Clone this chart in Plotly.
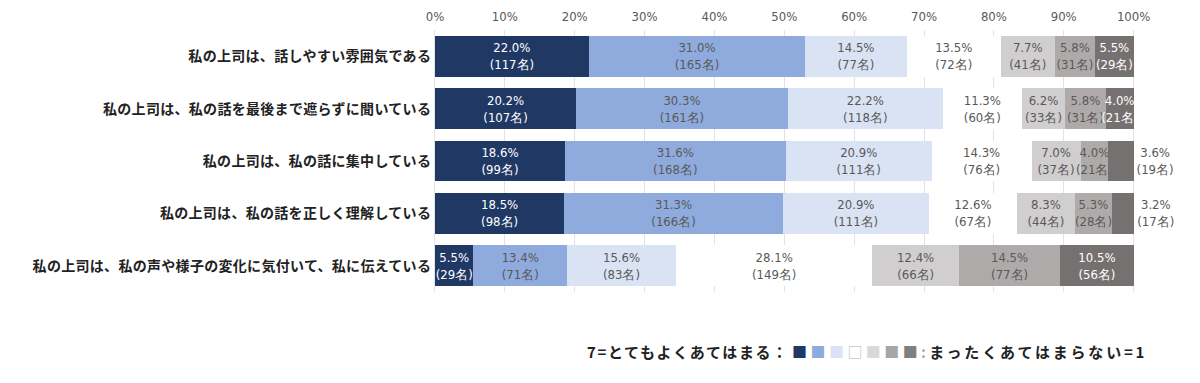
import plotly.graph_objects as go

categories = [
    "私の上司は、話しやすい雰囲気である",
    "私の上司は、私の話を最後まで遮らずに聞いている",
    "私の上司は、私の話に集中している",
    "私の上司は、私の話を正しく理解している",
    "私の上司は、私の声や様子の変化に気付いて、私に伝えている",
]
levels = ["7", "6", "5", "4", "3", "2", "1"]
pct = {
    "7": [22.0, 20.2, 18.6, 18.5, 5.5],
    "6": [31.0, 30.3, 31.6, 31.3, 13.4],
    "5": [14.5, 22.2, 20.9, 20.9, 15.6],
    "4": [13.5, 11.3, 14.3, 12.6, 28.1],
    "3": [7.7, 6.2, 7.0, 8.3, 12.4],
    "2": [5.8, 5.8, 4.0, 5.3, 14.5],
    "1": [5.5, 4.0, 3.6, 3.2, 10.5],
}
counts = {
    "7": [117, 107, 99, 98, 29],
    "6": [165, 161, 168, 166, 71],
    "5": [77, 118, 111, 111, 83],
    "4": [72, 60, 76, 67, 149],
    "3": [41, 33, 37, 44, 66],
    "2": [31, 31, 21, 28, 77],
    "1": [29, 21, 19, 17, 56],
}
tick_vals = [0, 10, 20, 30, 40, 50, 60, 70, 80, 90, 100]
tick_text = [f"{v}%" for v in tick_vals]
legend_left = "7=とてもよくあてはまる："
legend_right = "まったくあてはまらない=1"

colors = {"7": "#203864", "6": "#8FAADC", "5": "#DAE3F3", "4": "#FFFFFF",
          "3": "#D0CECE", "2": "#AEAAAA", "1": "#767171"}
legend_sq = {"7": "#203864", "6": "#8FAADC", "5": "#DAE3F3", "4": "#FFFFFF",
             "3": "#D9D9D9", "2": "#A6A6A6", "1": "#7F7F7F"}
text_colors = {"7": "#FFFFFF", "6": "#595959", "5": "#595959", "4": "#595959",
               "3": "#595959", "2": "#595959", "1": "#FFFFFF"}
num_font = "Liberation Sans Narrow, DejaVu Sans Condensed, Roboto, sans-serif"
jp_font = "Noto Sans CJK JP"

fig = go.Figure()
for lv in levels:
    texts = [f"{p:.1f}%<br>({n}名)" for p, n in zip(pct[lv], counts[lv])]
    if lv == "1":
        tpos = ["inside" if p >= 4 else "outside" for p in pct[lv]]
    else:
        tpos = "inside"
    fig.add_trace(go.Bar(
        y=categories, x=pct[lv], orientation="h", name=f"{lv}",
        marker=dict(color=colors[lv], line=dict(width=0)),
        text=texts, textposition=tpos, insidetextanchor="middle",
        textangle=0,
        insidetextfont=dict(color=text_colors[lv], family=num_font, size=13),
        outsidetextfont=dict(color="#595959", family=num_font, size=13),
        cliponaxis=False,
        hovertemplate="%{y}<br>%{x:.1f}%<extra></extra>",
    ))

squares = " ".join(
    f'<span style="color:{legend_sq[lv]}">■</span>'
    if lv != "4" else '<span style="color:#C8C8C8">□</span>'
    for lv in levels
)
legend_html = (f'<span style="letter-spacing:1.6px">{legend_left}</span> {squares} '
               f'<span style="color:#A6A6A6">:</span> '
               f'<span style="letter-spacing:2.8px">{legend_right}</span>')
cat_text = [f'<span style="letter-spacing:0.3px">{c}</span>' for c in categories]

fig.update_layout(
    barmode="stack", bargap=0.22,
    width=1200, height=383,
    # page body adds an 8px offset; margins compensate so the plot sits at 435..1135, 30..292
    margin=dict(l=427, r=73, t=22, b=99, autoexpand=False),
    plot_bgcolor="white", paper_bgcolor="white",
    uniformtext=dict(minsize=13, mode="show"),
    xaxis=dict(range=[0, 100.2], side="top", tickvals=tick_vals, ticktext=tick_text,
               showgrid=True, gridcolor="#E3E3E3", gridwidth=1, zeroline=False,
               tickfont=dict(family=num_font, size=13, color="#595959"),
               ticklabelstandoff=5,
               showline=False, fixedrange=True, automargin=False),
    yaxis=dict(autorange="reversed", showgrid=False, ticks="", ticklen=0,
               tickmode="array", tickvals=categories, ticktext=cat_text,
               tickfont=dict(family=jp_font, size=14, color="#222222", weight="bold"),
               showline=True, linecolor="#E3E3E3", linewidth=1, automargin=False),
    showlegend=False,
    annotations=[dict(text=legend_html, xref="paper", yref="paper", x=0.214, y=-0.229,
                      xanchor="left", yanchor="middle", showarrow=False,
                      font=dict(family=jp_font, size=15, color="#222222", weight="bold"))],
)
fig.write_html("out.html")
